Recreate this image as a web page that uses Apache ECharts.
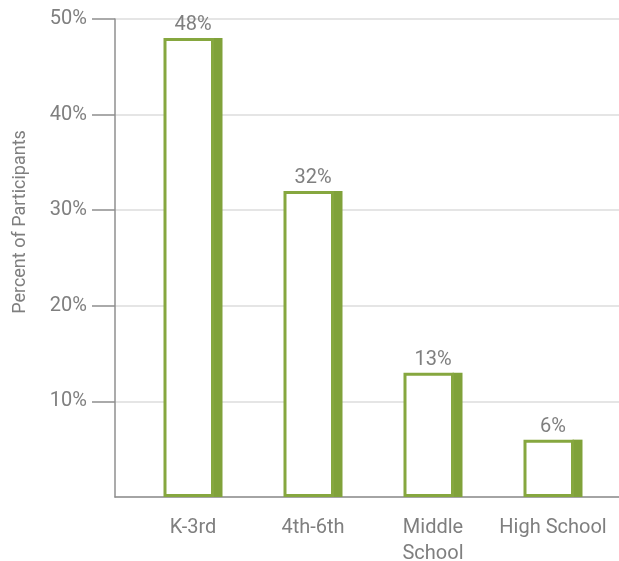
<!DOCTYPE html>
<html>
<head>
<meta charset="utf-8">
<script src="https://cdn.jsdelivr.net/npm/echarts@6/dist/echarts.min.js"></script>
<style>html,body{margin:0;padding:0;background:#fff;}#c{width:619px;height:561px;}</style>
</head>
<body>
<div id="c"></div>
<script>
const categories = ['K-3rd', '4th-6th', 'Middle\nSchool', 'High School'];
const values = [48, 32, 13, 6];
const yTicks = [0, 10, 20, 30, 40, 50];
const yAxisName = 'Percent of Participants';

const GREEN = '#86a73f';
const GREEN_DARK = '#80a23a';
const TEXT = '#7f7f7f';
const FONT = 'Roboto';

const chart = echarts.init(document.getElementById('c'), null, {renderer: 'canvas'});

function renderItem(params, api) {
  const cat = api.value(0), val = api.value(1);
  const top = api.coord([cat, val]);
  const bottom = api.coord([cat, 0]);
  const w = 59, strip = 10, bw = 3;
  const left = top[0] - w / 2;
  const h = bottom[1] - top[1];
  return {
    type: 'group',
    children: [
      {type: 'rect', shape: {x: left + w - strip, y: top[1], width: strip, height: h}, style: {fill: GREEN_DARK}},
      {type: 'rect', shape: {x: left + bw / 2, y: top[1] + bw / 2, width: w - strip - bw / 2, height: h - bw}, style: {fill: '#fff', stroke: GREEN, lineWidth: bw}},
      {type: 'text', style: {text: val + '%', x: top[0], y: top[1] - 3, align: 'center', verticalAlign: 'bottom', fontFamily: FONT, fontSize: 20, fill: TEXT}}
    ]
  };
}

chart.setOption({
  animation: false,
  grid: [
    {left: 115, right: 0, top: 19, bottom: 64, outerBoundsMode: 'none', containLabel: false},
    {left: 133, width: 480, top: 19, bottom: 64, outerBoundsMode: 'none', containLabel: false}
  ],
  xAxis: [
    {gridIndex: 0, type: 'value', min: 0, max: 1, axisLine: {show: true, lineStyle: {color: '#8f8f8f', width: 1.5}}, axisTick: {show: false}, axisLabel: {show: false}, splitLine: {show: false}},
    {gridIndex: 1, type: 'category', data: categories, axisLine: {show: false}, axisTick: {show: false},
     axisLabel: {interval: 0, color: TEXT, fontFamily: FONT, fontSize: 20, margin: 18, lineHeight: 26}}
  ],
  yAxis: [
    {gridIndex: 0, type: 'value', min: yTicks[0], max: yTicks[yTicks.length - 1], interval: 10,
     name: yAxisName, nameLocation: 'middle', nameGap: 86,
     nameTextStyle: {color: TEXT, fontFamily: FONT, fontSize: 18, padding: [0, 0, 0, 72]},
     axisLine: {show: true, lineStyle: {color: '#8f8f8f', width: 1.5}},
     axisTick: {show: true, inside: false, length: 23, lineStyle: {color: '#8f8f8f', width: 1.5}},
     axisLabel: {showMinLabel: false, color: TEXT, fontFamily: FONT, fontSize: 20, margin: 28, formatter: v => v + '%'},
     splitLine: {show: true, lineStyle: {color: '#dcdcdc', width: 1.5}}},
    {gridIndex: 1, type: 'value', min: yTicks[0], max: yTicks[yTicks.length - 1], show: false, splitLine: {show: false}}
  ],
  series: [{
    type: 'custom',
    xAxisIndex: 1,
    yAxisIndex: 1,
    renderItem: renderItem,
    data: values.map((v, i) => [i, v]),
    encode: {x: 0, y: 1}
  }]
});
</script>
</body>
</html>
